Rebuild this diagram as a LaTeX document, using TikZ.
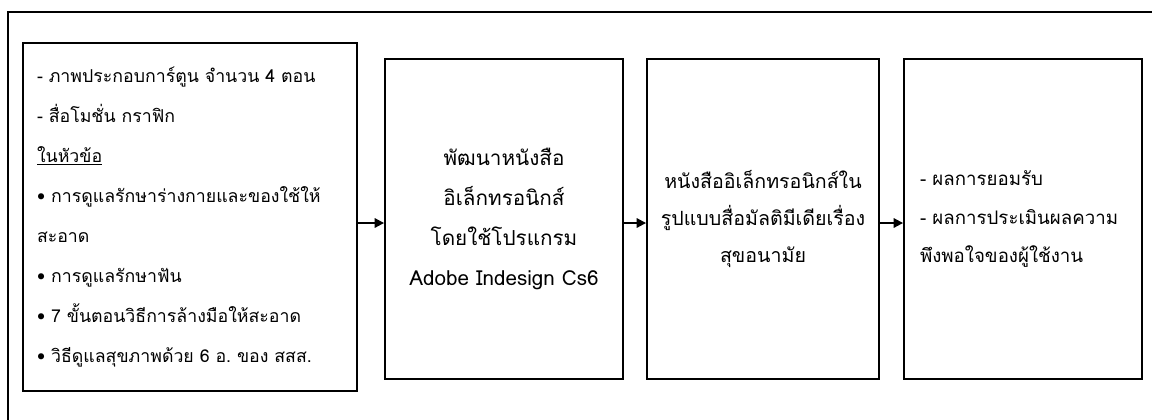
\documentclass[tikz,border=0pt]{standalone}
\usepackage{fontspec}
\newfontfamily\thaifont[Script=Thai]{Loma}
\usetikzlibrary{arrows.meta}

\begin{document}
\begin{tikzpicture}[x=0.75pt, y=-0.75pt,
    stepbox/.style={draw, line width=1.4pt, inner sep=0pt, font=\thaifont},
    flow/.style={line width=1.4pt, -{Triangle[length=7pt, width=7pt]}}]
      \useasboundingbox (0,0) rectangle (1152,419);
      \begin{scope}
        \clip (0,0) rectangle (1152,419);
        \draw[line width=1.1pt] (8,12) rectangle (1170,440);
      \end{scope}
      \node[stepbox, minimum width=250.5pt, minimum height=261pt, text width=229.5pt, align=left,
            font=\thaifont\fontsize{13.3}{30}\selectfont] (input) at (190,217)
        {-~ภาพประกอบการ์ตูน~จำนวน~4~ตอน\\
         -~สื่อโมชั่น~กราฟิก\\
         \underline{ในหัวข้อ}\\
         •~การดูแลรักษาร่างกายและของใช้ให้\\
         สะอาด\\
         •~การดูแลรักษาฟัน\\
         •~7~ขั้นตอนวิธีการล้างมือให้สะอาด\\
         •~วิธีดูแลสุขภาพด้วย~6~อ.~ของ~สสส.};
      \node[stepbox, minimum width=178.5pt, minimum height=240pt, align=center,
            font=\thaifont\fontsize{15.5}{30}\selectfont] (develop) at (504,219)
        {พัฒนาหนังสือ\\ อิเล็กทรอนิกส์\\ โดยใช้โปรแกรม\\ Adobe Indesign Cs6};
      \node[stepbox, minimum width=174pt, minimum height=240pt, align=center,
            font=\thaifont\fontsize{14.7}{28}\selectfont] (ebook) at (763,219)
        {หนังสืออิเล็กทรอนิกส์ใน\\ รูปแบบสื่อมัลติมีเดียเรื่อง\\ สุขอนามัย};
      \node[stepbox, minimum width=178.5pt, minimum height=240pt, text width=154.5pt, align=left,
            font=\thaifont\fontsize{14}{29}\selectfont] (result) at (1023,219)
        {-~ผลการยอมรับ\\ -~ผลการประเมินผลความ\\ พึงพอใจของผู้ใช้งาน};
      \coordinate (lev) at (0,223);
      \foreach \a/\b in {input/develop, develop/ebook, ebook/result}
        \draw[flow] (\a.east |- lev) -- (\b.west |- lev);
    \end{tikzpicture}
\end{document}
